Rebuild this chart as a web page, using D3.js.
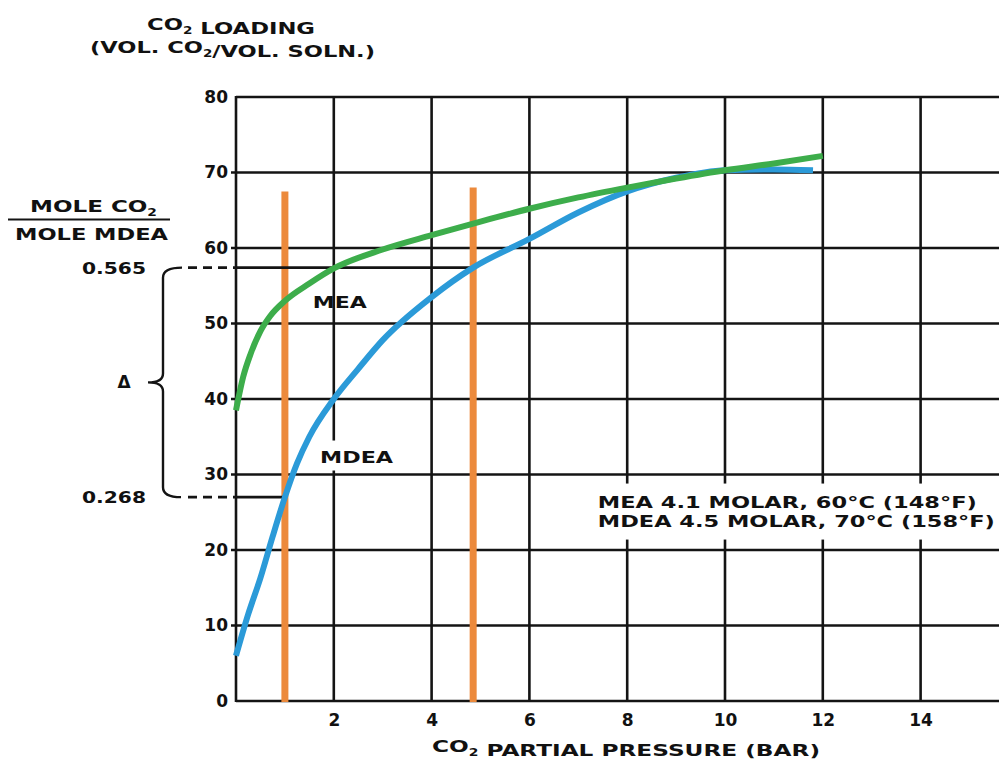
<!DOCTYPE html>
<html>
<head>
<meta charset="utf-8">
<script src="https://cdn.jsdelivr.net/npm/d3@7.9.0/dist/d3.min.js"></script>
<style>
  html, body { margin: 0; padding: 0; background: #fff; }
  svg { display: block; }
  text { font-family: "DejaVu Sans", "Liberation Sans", sans-serif; font-weight: bold; fill: #111; }
</style>
</head>
<body>
<div id="chart"></div>
<script>
// data
const xTicks = [2, 4, 6, 8, 10, 12, 14];
const yTicks = [0, 10, 20, 30, 40, 50, 60, 70, 80];
const gridX = [2, 4, 6, 8, 10, 12, 14, 16];

const meaPressure = [0, 0.15, 0.3, 0.5, 0.7, 1.0, 1.5, 2, 3, 4, 5, 6, 7, 8, 9, 10, 11, 12];
const meaLoading  = [38.5, 43, 46, 49, 51, 53, 55.3, 57.3, 59.8, 61.7, 63.5, 65.2, 66.7, 68, 69.2, 70.3, 71.2, 72.2];

const mdeaPressure = [0, 0.25, 0.5, 0.75, 1.0, 1.25, 1.5, 2, 2.5, 3, 4, 4.85, 6, 7, 8, 9, 10, 11, 11.8];
const mdeaLoading  = [6, 11.5, 16.3, 21.8, 27, 31.5, 35, 40, 44, 47.8, 53.5, 57.4, 61.2, 64.7, 67.5, 69.3, 70.3, 70.4, 70.3];

const markerPressure = [1.0, 4.85];
const markerTop = [67.5, 68];

const bracketLoading = [57.4, 27.0];
const bracketLabels = ["0.565", "0.268"];

const legendLines = ["MEA 4.1 MOLAR, 60\u00B0C (148\u00B0F)", "MDEA 4.5 MOLAR, 70\u00B0C (158\u00B0F)"];

const width = 999;
const height = 761;

const svg = d3.select('#chart')
  .append('svg')
  .attr('width', width)
  .attr('height', height);

const xScale = d3.scaleLinear().domain([0, 16]).range([236, 236 + 16 * 48.9]);
const yScale = d3.scaleLinear().domain([0, 80]).range([701, 97]);

const ink = '#141414';
const gridWidth = 2.6;

// grid
const grid = svg.append('g').attr('class', 'grid');

grid.selectAll('line.h')
  .data(yTicks)
  .join('line')
  .attr('class', 'h')
  .attr('x1', d => (d === 0 || d === 80) ? xScale(0) : xScale(0) - 5)
  .attr('x2', width)
  .attr('y1', d => yScale(d))
  .attr('y2', d => yScale(d))
  .attr('stroke', ink)
  .attr('stroke-width', gridWidth);

grid.selectAll('line.v')
  .data([0, ...gridX])
  .join('line')
  .attr('class', 'v')
  .attr('x1', d => xScale(d))
  .attr('x2', d => xScale(d))
  .attr('y1', yScale(80) - 1)
  .attr('y2', yScale(0) + 1)
  .attr('stroke', ink)
  .attr('stroke-width', gridWidth);

// axes (labels only, the lines are the grid)
const yAxis = svg.append('g')
  .attr('transform', `translate(${xScale(0)},0)`)
  .call(d3.axisLeft(yScale).tickValues(yTicks).tickSize(0).tickPadding(8));
yAxis.select('.domain').remove();
yAxis.selectAll('text')
  .style('font-family', '"DejaVu Sans", sans-serif')
  .style('font-weight', 'bold')
  .style('font-size', '17px')
  .attr('fill', ink)
  .attr('dy', '0.32em');

const xAxis = svg.append('g')
  .attr('transform', `translate(0,${yScale(0)})`)
  .call(d3.axisBottom(xScale).tickValues(xTicks).tickSize(0).tickPadding(13));
xAxis.select('.domain').remove();
xAxis.selectAll('text')
  .style('font-family', '"DejaVu Sans", sans-serif')
  .style('font-weight', 'bold')
  .style('font-size', '17px')
  .attr('fill', ink);

// bold text with CO2 subscripts, stretched to the scanned width
function label(parts, x, y, len, size) {
  const t = svg.append('text')
    .attr('x', x)
    .attr('y', y)
    .style('font-size', size + 'px')
    .attr('textLength', len)
    .attr('lengthAdjust', 'spacingAndGlyphs');
  parts.forEach(p => {
    if (typeof p === 'object') {
      t.append('tspan').attr('dy', 4).style('font-size', (size * 0.6) + 'px').text(p.sub);
      t.append('tspan').attr('dy', -4).text('');
    } else {
      t.append('tspan').text(p);
    }
  });
  return t;
}

// white knockouts behind in-plot labels
svg.append('rect')
  .attr('x', xScale(1.68)).attr('y', yScale(34.5))
  .attr('width', 78).attr('height', 30)
  .attr('fill', '#fff');
svg.append('rect')
  .attr('x', xScale(7.3)).attr('y', yScale(28.8))
  .attr('width', width - xScale(7.3)).attr('height', 56)
  .attr('fill', '#fff');

// orange marker lines
svg.append('g')
  .selectAll('line')
  .data(markerPressure)
  .join('line')
  .attr('x1', d => xScale(d))
  .attr('x2', d => xScale(d))
  .attr('y1', yScale(0) + 1)
  .attr('y2', (d, i) => yScale(markerTop[i]))
  .attr('stroke', '#ec8a3c')
  .attr('stroke-width', 7);

// bracket lines: solid inside the plot, dashed outside
svg.append('g')
  .selectAll('line')
  .data(bracketLoading)
  .join('line')
  .attr('x1', xScale(0))
  .attr('x2', (d, i) => xScale(markerPressure[1 - i]))
  .attr('y1', d => yScale(d))
  .attr('y2', d => yScale(d))
  .attr('stroke', ink)
  .attr('stroke-width', gridWidth);

svg.append('g')
  .selectAll('line')
  .data(bracketLoading)
  .join('line')
  .attr('x1', 188)
  .attr('x2', xScale(0))
  .attr('y1', d => yScale(d))
  .attr('y2', d => yScale(d))
  .attr('stroke', ink)
  .attr('stroke-width', gridWidth)
  .attr('stroke-dasharray', '9,6');

// curly brace
const yT = yScale(bracketLoading[0]);
const yB = yScale(bracketLoading[1]);
const yM = (yT + yB) / 2;
svg.append('path')
  .attr('d', `M182,${yT} Q163,${yT} 163,${yT + 10} L163,${yM - 9} Q163,${yM} 148,${yM} Q163,${yM} 163,${yM + 9} L163,${yB - 10} Q163,${yB} 181,${yB}`)
  .attr('fill', 'none')
  .attr('stroke', ink)
  .attr('stroke-width', 2.4);

// curves
const line = d3.line().curve(d3.curveMonotoneX);

svg.append('path')
  .attr('d', line(mdeaPressure.map((p, i) => [xScale(p), yScale(mdeaLoading[i])])))
  .attr('fill', 'none')
  .attr('stroke', '#2b9ad8')
  .attr('stroke-width', 6)
  .attr('stroke-linecap', 'butt');

svg.append('path')
  .attr('d', line(meaPressure.map((p, i) => [xScale(p), yScale(meaLoading[i])])))
  .attr('fill', 'none')
  .attr('stroke', '#3dad4b')
  .attr('stroke-width', 6)
  .attr('stroke-linecap', 'butt');

// titles and annotations
label(['CO', {sub: '2'}, ' LOADING'], 147, 30, 168, 16);
label(['(VOL. CO', {sub: '2'}, '/VOL. SOLN.)'], 90, 53, 285, 16);
label(['CO', {sub: '2'}, ' PARTIAL PRESSURE (BAR)'], 432, 752, 388, 16);

label(['MOLE CO', {sub: '2'}], 30, 212, 127, 16);
svg.append('line')
  .attr('x1', 8).attr('x2', 170)
  .attr('y1', 219.5).attr('y2', 219.5)
  .attr('stroke', ink).attr('stroke-width', 2);
label(['MOLE MDEA'], 15, 240, 153, 16);

bracketLabels.forEach((t, i) => {
  label([t], 82, yScale(bracketLoading[i]) + 6, 64, 15);
});
svg.append('text')
  .attr('x', 124).attr('y', yM + 6)
  .attr('text-anchor', 'middle')
  .style('font-size', '17px')
  .text('\u0394');

label(['MEA'], xScale(1.57), yScale(52.05), 54, 15);
label(['MDEA'], xScale(1.72), yScale(31.5), 73, 15);

legendLines.forEach((t, i) => {
  label([t], xScale(7.4), yScale(i === 0 ? 25.6 : 23.1), i === 0 ? 379 : 397, 15);
});
</script>
</body>
</html>
